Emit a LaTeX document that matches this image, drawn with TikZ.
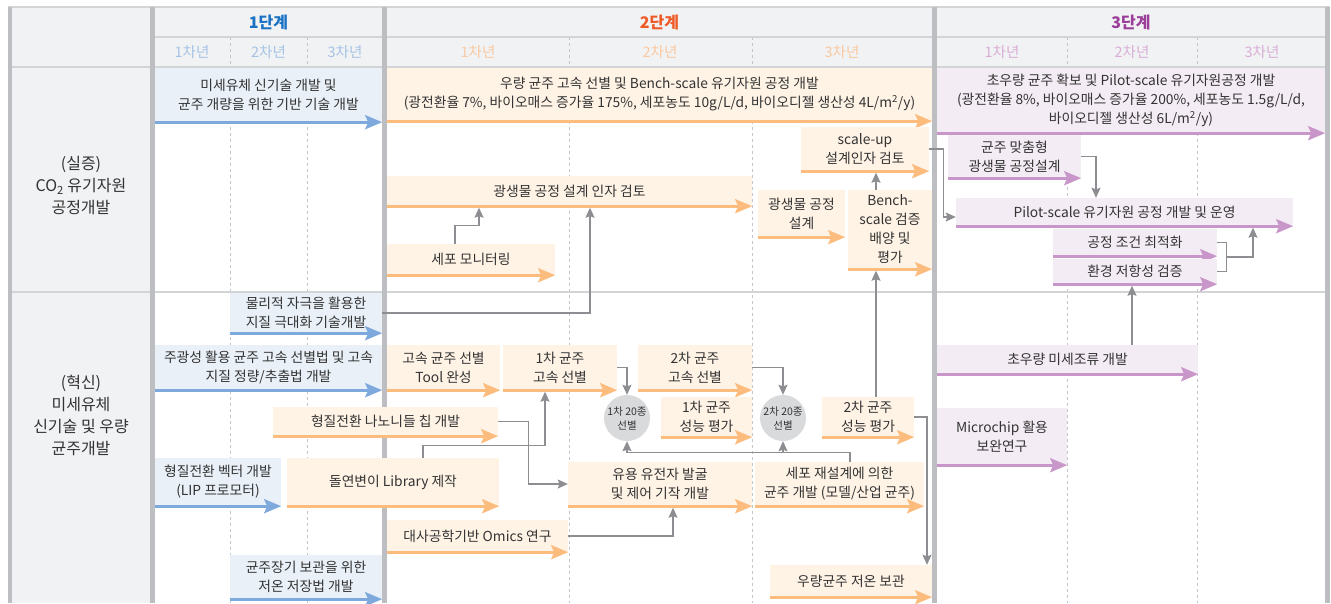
\documentclass[tikz,border=0pt]{standalone}
\usepackage{fontspec}
\setmainfont{Noto Sans CJK KR}
\usetikzlibrary{arrows.meta,calc}
\definecolor{hdrbg}{HTML}{F1F2F4}
\definecolor{barc}{HTML}{BDBEC1}
\definecolor{hlinec}{HTML}{D3D4D6}
\definecolor{dashc}{HTML}{C4C5C7}
\definecolor{txt}{HTML}{333333}
\definecolor{bfill}{HTML}{E9F0F8}
\definecolor{bline}{HTML}{7DA9DD}
\definecolor{ofill}{HTML}{FFF3E6}
\definecolor{oline}{HTML}{FCBC7E}
\definecolor{pfill}{HTML}{F4ECF4}
\definecolor{pline}{HTML}{C896C8}
\definecolor{connc}{HTML}{8D8E91}
\definecolor{circc}{HTML}{D9DADC}
\definecolor{phA}{HTML}{1B72C4}
\definecolor{phB}{HTML}{EE5B26}
\definecolor{phC}{HTML}{9B3E9A}
\definecolor{yrA}{HTML}{A6C3E6}
\definecolor{yrB}{HTML}{FAC9A0}
\definecolor{yrC}{HTML}{DAADD6}
\newcommand\mybox[7]{%
  \pgfmathsetmacro\myw{#5-#3}%
  \pgfmathsetmacro\myh{#6-#4}%
  \node[#2box, minimum width=\myw pt, minimum height=\myh pt] (#1) at ({(#3+#5)/2},{(#4+#6)/2}) {#7};%
  \draw[#2arr] (#1.south west) -- (#1.south east);}
\begin{document}
\begin{tikzpicture}[x=1pt,y=-1pt,
  box/.style={rectangle, inner sep=0pt, align=center, text=txt, font=\fontsize{13.8}{19}\selectfont},
  bbox/.style={box, fill=bfill},
  obox/.style={box, fill=ofill},
  pbox/.style={box, fill=pfill},
  arrbase/.style={line width=3pt, -{Stealth[length=17pt,width=14pt,inset=3pt]}},
  barr/.style={arrbase, draw=bline},
  oarr/.style={arrbase, draw=oline},
  parr/.style={arrbase, draw=pline},
  conn/.style={draw=connc, line width=1.3pt, -{Stealth[length=10pt,width=9pt,inset=1.5pt]}},
  connt/.style={conn, shorten >=1.5pt},
  connl/.style={draw=connc, line width=1.3pt},
  circ/.style={circle, fill=circc, minimum size=46pt, inner sep=-5pt, align=center, text=txt, font=\fontsize{10.5}{14}\selectfont},
  phase/.style={font=\fontsize{16}{18}\selectfont\bfseries},
  year/.style={font=\fontsize{14.5}{16}\selectfont},
  lab/.style={align=center, text=txt, font=\fontsize{16}{22}\selectfont},
  bar/.style={draw=barc, line width=4.5pt},
  hline/.style={draw=hlinec, line width=1.5pt},
  ydash/.style={draw=dashc, line width=0.8pt, dash pattern=on 3pt off 3pt}]
\useasboundingbox (0,0) rectangle (1331,603);
\fill[white] (0,0) rectangle (1331,603);
\fill[hdrbg] (12,7) rectangle (150,603);
\fill[hdrbg] (155,7) rectangle (1325,67);
\foreach \x in {230,307,569,752,1067,1197} \draw[ydash] (\x,37) -- (\x,603);
\draw[hline] (8,7) -- (1330,7);
\draw[hline] (155,37) -- (1325,37);
\draw[hline] (12,67) -- (1325,67);
\draw[hline] (12,292) -- (1325,292);
\foreach \x in {10,152.5,384.5,934.5,1327.5} \draw[bar] (\x,7) -- (\x,603);
% headings
\node[phase, text=phA] (h1) at (268.5,22) {1단계};
\node[phase, text=phB] (h2) at (659.5,22) {2단계};
\node[phase, text=phC] (h3) at (1131,22) {3단계};
\node[year, text=yrA] (y11) at (192,52) {1차년};
\node[year, text=yrA] (y12) at (268.5,52) {2차년};
\node[year, text=yrA] (y13) at (345,52) {3차년};
\node[year, text=yrB] (y21) at (478,52) {1차년};
\node[year, text=yrB] (y22) at (660,52) {2차년};
\node[year, text=yrB] (y23) at (842,52) {3차년};
\node[year, text=yrC] (y31) at (1002,52) {1차년};
\node[year, text=yrC] (y32) at (1132,52) {2차년};
\node[year, text=yrC] (y33) at (1262,52) {3차년};
\node[lab] (L1) at (81,186) {(실증)\\CO\textsubscript{2} 유기자원\\공정개발};
\node[lab] (L2) at (81,415) {(혁신)\\미세유체\\신기술 및 우량\\균주개발};
% phase 1 boxes
\mybox{bA}{b}{155}{68}{382}{122}{미세유체 신기술 개발 및\\균주 개량을 위한 기반 기술 개발}
\mybox{bB}{b}{230}{293}{382}{333}{물리적 자극을 활용한\\지질 극대화 기술개발}
\mybox{bC}{b}{155}{345}{382}{390}{주광성 활용 균주 고속 선별법 및 고속\\지질 정량/추출법 개발}
\mybox{bD}{b}{155}{458}{281}{506}{형질전환 벡터 개발\\(LIP 프로모터)}
\mybox{bE}{b}{230}{555}{382}{599}{균주장기 보관을 위한\\저온 저장법 개발}
% phase 2 upper
\mybox{oA}{o}{387}{68}{932}{121}{우량 균주 고속 선별 및 Bench-scale 유기자원 공정 개발\\(광전환율 7\%, 바이오매스 증가율 175\%, 세포농도 10g/L/d, 바이오디젤 생산성 4L/m\textsuperscript{2}/y)}
\mybox{oSU}{o}{801}{127}{929}{171}{scale-up\\설계인자 검토}
\mybox{oPD}{o}{387}{176}{752}{206}{광생물 공정 설계 인자 검토}
\mybox{oPS}{o}{758}{190}{845}{237}{광생물 공정\\설계}
\mybox{oBS}{o}{848}{190}{932}{269}{Bench-\\scale 검증\\배양 및\\평가}
\mybox{oMon}{o}{387}{244}{555}{275}{세포 모니터링}
% phase 2 lower
\mybox{oTool}{o}{387}{345}{500}{390}{고속 균주 선별\\Tool 완성}
\mybox{oS1}{o}{503}{345}{617}{390}{1차 균주\\고속 선별}
\mybox{oS2}{o}{638}{345}{752}{390}{2차 균주\\고속 선별}
\mybox{oNano}{o}{273}{407}{498}{436}{형질전환 나노니들 칩 개발}
\mybox{oP1}{o}{661}{397}{752}{437}{1차 균주\\성능 평가}
\mybox{oP2}{o}{822}{397}{914}{437}{2차 균주\\성능 평가}
\mybox{oLib}{o}{287}{458}{499}{506}{돌연변이 Library 제작}
\mybox{oGene}{o}{568}{462}{752}{506}{유용 유전자 발굴\\및 제어 기작 개발}
\mybox{oCell}{o}{755}{462}{924}{506}{세포 재설계에 의한\\균주 개발 (모델/산업 균주)}
\mybox{oOmics}{o}{387}{520}{568}{552}{대사공학기반 Omics 연구}
\mybox{oStore}{o}{770}{565}{932}{597}{우량균주 저온 보관}
\node[circ] (c1) at (627,418) {1차 20종\\선별};
\node[circ] (c2) at (783,418) {2차 20종\\선별};
% phase 3
\mybox{pA}{p}{937}{68}{1325}{133}{초우량 균주 확보 및 Pilot-scale 유기자원공정 개발\\(광전환율 8\%, 바이오매스 증가율 200\%, 세포농도 1.5g/L/d,\\바이오디젤 생산성 6L/m\textsuperscript{2}/y)}
\mybox{pB}{p}{948}{135}{1081}{178}{균주 맞춤형\\광생물 공정설계}
\mybox{pC}{p}{956}{198}{1293}{226}{Pilot-scale 유기자원 공정 개발 및 운영}
\mybox{pD}{p}{1053}{229}{1217}{256}{공정 조건 최적화}
\mybox{pE}{p}{1053}{259}{1217}{284}{환경 저항성 검증}
\mybox{pF}{p}{937}{345}{1198}{374}{초우량 미세조류 개발}
\mybox{pG}{p}{937}{408}{1067}{465}{Microchip 활용\\보완연구}
% connectors
\coordinate (xBS) at (876,0);
\coordinate (xM) at (1132,0);
\coordinate (xC) at (850,0);
\coordinate (xL) at (423,0);
\draw[connt] ([xshift=-16pt]oMon.north) -- ++(0,-18) -| ([xshift=-90.5pt]oPD.south);
\draw[connt] (bB.east) -| ([xshift=20.5pt]oPD.south);
\draw[connt] (oBS.north -| xBS) -- (oSU.south -| xBS);
\draw[connt] (oP2.north -| xBS) -- (oBS.south -| xBS);
\draw[conn] (oSU.east) -- ++(14,0) |- ([yshift=-5pt]pC.west);
\draw[conn] (pB.east) -| ([xshift=-28.5pt]pC.north);
\draw[connl] (pD.east) -- ++(9,0) |- (pE.east);
\draw[connt] ($(pD.east)!0.5!(pE.east)+(9,0)$) -| ([xshift=128.5pt]pC.south);
\draw[connt] (pF.north -| xM) -- (pE.south -| xM);
\draw[conn] (oS1.east) -| (c1.north);
\draw[conn] (oS2.east) -| (c2.north);
\draw[conn] (oCell.north -| xC) -- ++(0,-9) coordinate (jj) -| (c1.south);
\draw[conn] (c2.south |- jj) -- (c2.south);
\draw[conn] (oNano.east) -- ++(30,0) |- (oGene.west);
\draw[connt] (oLib.north -| xL) -- ++(0,-12) -| ([xshift=-15pt]oS1.south);
\draw[connt] (oOmics.east) -| ([xshift=13pt]oGene.south);
\draw[conn] (oP2.east) -| ([xshift=76pt]oStore.north);
\end{tikzpicture}
\end{document}
